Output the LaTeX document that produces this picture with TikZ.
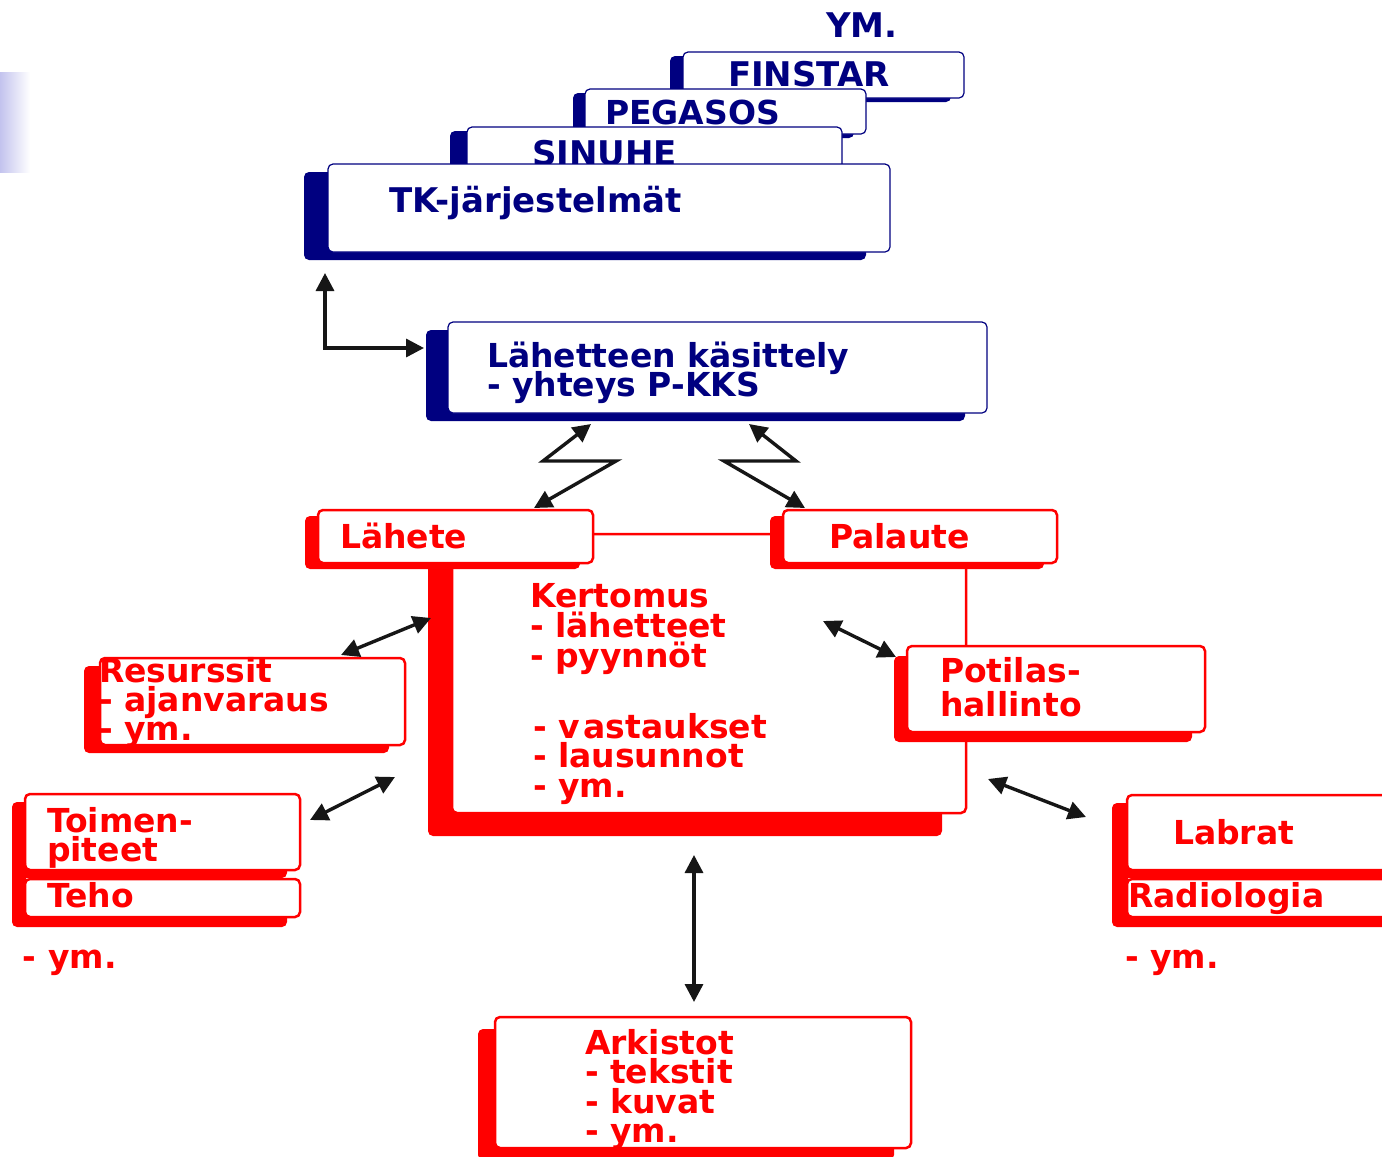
\documentclass[tikz,border=0pt]{standalone}
\usepackage{fontspec}
\setmainfont{DejaVu Sans}
\usetikzlibrary{arrows.meta,shadows}
\definecolor{navy}{HTML}{000080}
\definecolor{rred}{HTML}{FF0000}
\definecolor{lav}{RGB}{195,195,238}
\definecolor{ink}{RGB}{22,22,22}
\newcommand\mlines[2][29.5pt]{\vtop{\baselineskip=#1\lineskiplimit=-200pt\halign{##\hfil\cr#2\crcr}}}
\tikzset{
  nbox/.style={draw=navy, line width=1.2pt, fill=white, rounded corners=5pt, inner sep=0pt, outer sep=0pt, anchor=north west},
  rbox/.style={draw=rred, line width=2.5pt, fill=white, rounded corners=5pt, inner sep=0pt, outer sep=0pt, anchor=north west},
  nsh/.style 2 args={drop shadow={shadow xshift=#1, shadow yshift=#2, fill=navy, opacity=1}},
  rsh/.style 2 args={drop shadow={shadow xshift=#1, shadow yshift=#2, fill=rred, opacity=1}},
  txt/.style={inner sep=0pt, outer sep=0pt, anchor=base west, font=\fontsize{33}{30}\selectfont\bfseries},
  ntxt/.style={txt, text=navy},
  bigntxt/.style={ntxt, font=\fontsize{34}{30}\selectfont\bfseries},
  rtxt/.style={txt, text=rred},
  arr/.style={draw=ink, line width=3.4pt, {Triangle[length=18pt,width=18pt]}-{Triangle[length=18pt,width=18pt]}},
}
\begin{document}
\begin{tikzpicture}[x=1pt,y=-1pt]
\useasboundingbox (0,0) rectangle (1382,1157);
\fill[white] (0,0) rectangle (1382,1157);
\shade[left color=lav, right color=white] (0,72) rectangle (30,172);

% navy stack
\node[bigntxt] (ym) at (826,37) {YM.};
\node[nbox, nsh={-13pt}{-4pt}, minimum width=281pt, minimum height=46pt] (finstar) at (683,52) {};
\node[bigntxt] (finstarT) at (728,86) {FINSTAR};
\node[nbox, nsh={-12pt}{-4pt}, minimum width=281pt, minimum height=45pt] (pegasos) at (585,89) {};
\node[ntxt] (pegasosT) at (605,124) {PEGASOS};
\node[nbox, nsh={-17pt}{-4pt}, minimum width=375pt, minimum height=60pt] (sinuhe) at (467,127) {};
\node[bigntxt] (sinuheT) at (532,165) {SINUHE};
\node[nbox, nsh={-24pt}{-8pt}, minimum width=562pt, minimum height=88pt] (tk) at (328,164) {};
\node[bigntxt] (tkT) at (389,212) {TK-järjestelmät};

\node[nbox, nsh={-22pt}{-8pt}, minimum width=539pt, minimum height=91pt] (lk) at (448,322) {};
\node[ntxt] (lkT) at (487,367) {\mlines[29pt]{Lähetteen käsittely\cr - yhteys P-KKS}};

% red frame
\node[rbox, rsh={-24pt}{-23pt}, minimum width=514pt, minimum height=279pt] (kert) at (452,534) {};
\node[rtxt] (kertA) at (530,607) {\mlines[30pt]{Kertomus\cr - lähetteet\cr - pyynnöt}};
\node[rtxt] (kertB) at (533,738) {\mlines[29.5pt]{- v\kern4pt astaukset\cr - lausunnot\cr - ym.}};

\node[rbox, rsh={-13pt}{-6pt}, minimum width=275pt, minimum height=53pt] (lahete) at (318,510) {};
\node[rtxt] (laheteT) at (340,548) {Lähete};
\node[rbox, rsh={-13pt}{-6pt}, minimum width=274pt, minimum height=53pt] (palaute) at (783,510) {};
\node[rtxt] (palauteT) at (829,548) {Palaute};

\node[rbox, rsh={-13pt}{-10pt}, minimum width=298pt, minimum height=86pt] (potilas) at (907,646) {};
\node[rtxt] (potilasT) at (940,682) {\mlines[34pt]{Potilas-\cr hallinto}};

\node[rbox, rsh={-16pt}{-8pt}, minimum width=305pt, minimum height=87pt] (res) at (100,658) {};
\node[rtxt] (resT) at (99,682) {\mlines[29pt]{Resurssit\cr - ajanvaraus\cr - ym.}};

\node[rbox, rsh={-13pt}{-8pt}, minimum width=275pt, minimum height=76pt] (toim) at (25,794) {};
\node[rtxt] (toimT) at (47,832) {\mlines[29pt]{Toimen-\cr piteet}};
\fill[rred, rounded corners=3pt] (12,860) rectangle (26,905);
\node[rbox, rsh={-13pt}{-10pt}, minimum width=275pt, minimum height=38pt] (teho) at (25,879) {};
\node[rtxt] (tehoT) at (47,907) {Teho};
\node[rtxt] (ymL) at (23,968) {- ym.};

\node[rbox, rsh={-15pt}{-8pt}, minimum width=300pt, minimum height=75pt] (labrat) at (1127,795) {};
\node[rtxt] (labratT) at (1173,844) {Labrat};
\fill[rred, rounded corners=3pt] (1112,860) rectangle (1128,905);
\node[rbox, rsh={-15pt}{-10pt}, minimum width=300pt, minimum height=38pt] (radio) at (1127,879) {};
\node[rtxt] (radioT) at (1128,907) {Radiologia};
\node[rtxt] (ymR) at (1125,968) {- ym.};

\node[rbox, rsh={-17pt}{-12pt}, minimum width=416pt, minimum height=131pt] (ark) at (495,1017) {};
\node[rtxt] (arkT) at (585,1054) {\mlines[29.5pt]{Arkistot\cr - tekstit\cr - kuvat\cr - ym.}};

% connectors
\coordinate (tkB) at (325,273);
\coordinate (elb) at (325,348);
\coordinate (lkL) at (424,348);
\draw[arr] (tkB) -- (elb) -- (lkL);

\coordinate (zl1) at (591,424);
\coordinate (zl2) at (543,461);
\coordinate (zl3) at (616,461);
\coordinate (zl4) at (534,508);
\draw[arr] (zl1) -- (zl2) -- (zl3) -- (zl4);
\coordinate (zr1) at (749,424);
\coordinate (zr2) at (796,461);
\coordinate (zr3) at (724,461);
\coordinate (zr4) at (805,508);
\draw[arr] (zr1) -- (zr2) -- (zr3) -- (zr4);

\coordinate (ra) at (341,655);
\coordinate (rb) at (431,618);
\draw[arr] (ra) -- (rb);
\coordinate (pa) at (823,621);
\coordinate (pb) at (896,657);
\draw[arr] (pa) -- (pb);
\coordinate (ta) at (310,820);
\coordinate (tb) at (395,777);
\draw[arr] (ta) -- (tb);
\coordinate (la) at (988,779);
\coordinate (lb) at (1086,817);
\draw[arr] (la) -- (lb);
\coordinate (aa) at (694,855);
\coordinate (ab) at (694,1002);
\draw[arr] (aa) -- (ab);
\end{tikzpicture}
\end{document}
